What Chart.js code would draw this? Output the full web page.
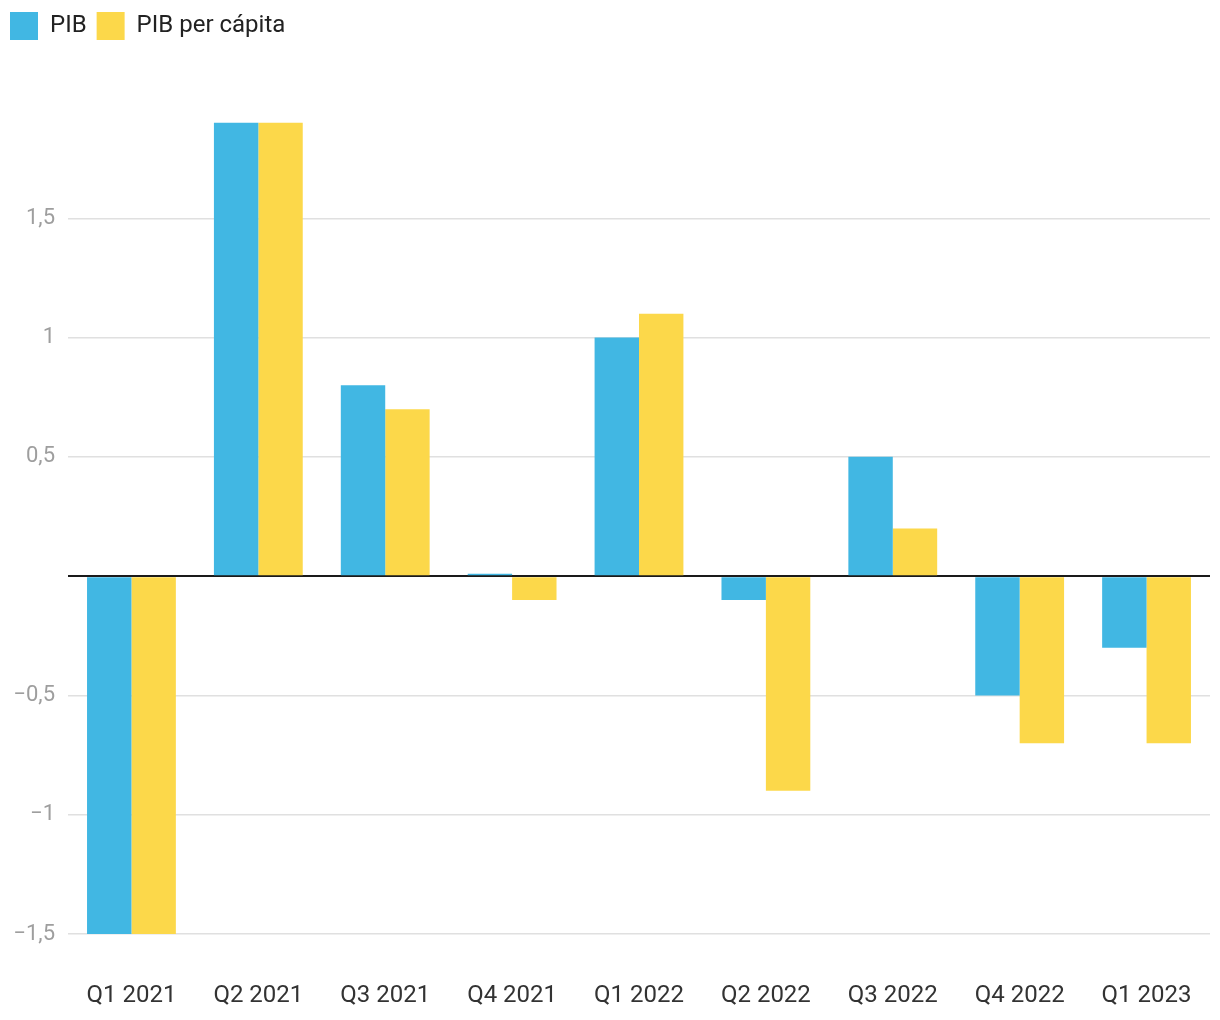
<!DOCTYPE html>
<html>
<head>
<meta charset="utf-8">
<script src="https://cdn.jsdelivr.net/npm/chart.js@4/dist/chart.umd.min.js"></script>
<style>
  html, body { margin:0; padding:0; background:#fff; overflow:hidden; }
  #wrap { position:relative; width:1220px; height:1020px; }
</style>
</head>
<body>
<div id="wrap"><canvas id="c"></canvas></div>
<script>
/* PIB trimestral: variación % */
const quarters = ['Q1 2021','Q2 2021','Q3 2021','Q4 2021','Q1 2022','Q2 2022','Q3 2022','Q4 2022','Q1 2023'];
const pib = [-1.5, 1.9, 0.8, 0.01, 1.0, -0.1, 0.5, -0.5, -0.3];
const pibPerCapita = [-1.5, 1.9, 0.7, -0.1, 1.1, -0.9, 0.2, -0.7, -0.7];
const yTicks = [-1.5, -1, -0.5, 0, 0.5, 1, 1.5, 2];

const fmt = v => String(v).replace('.', ',').replace('-', '\u2212');

// altura fija de la leyenda para colocar el área del gráfico
const legendHeight = {
  id: 'legendHeight',
  beforeInit(chart) {
    const orig = chart.legend.fit;
    chart.legend.fit = function () { orig.bind(chart.legend)(); this.height = 97; };
  }
};

new Chart(document.getElementById('c').getContext('2d'), {
  type: 'bar',
  data: {
    labels: quarters,
    datasets: [
      { label:'PIB', data:pib, backgroundColor:'#41B7E3', categoryPercentage:0.7, barPercentage:1.0 },
      { label:'PIB per cápita', data:pibPerCapita, backgroundColor:'#FCD84A', categoryPercentage:0.7, barPercentage:1.0 }
    ]
  },
  options: {
    responsive:true, maintainAspectRatio:false, animation:false,
    layout: { padding:{ left:0, right:10, top:2, bottom:12 } },
    plugins: {
      legend: { position:'top', align:'start',
        labels: { boxWidth:28, boxHeight:28, padding:10, color:'#222', font:{ family:'Roboto', size:24 } } },
      tooltip: { enabled:false }
    },
    scales: {
      x: {
        grid: { display:false, drawTicks:false },
        border: { display:false },
        // el padding de las etiquetas no debe recortar el área por los lados
        afterFit: s => { s.height = 74; s.paddingLeft = 0; s.paddingRight = 0; },
        ticks: { padding:48, color:'#333', font:{ family:'Roboto', size:24 } }
      },
      y: {
        min:-1.5, max:2,
        afterBuildTicks: s => { s.ticks = yTicks.map(v => ({ value:v })); },
        afterFit: s => { s.width = 68; },
        border: { display:false },
        grid: {
          drawTicks:false,
          color: c => c.tick.value === 0 ? '#1a1a1a' : (c.tick.value === 2 ? 'rgba(0,0,0,0)' : '#e0e0e0'),
          lineWidth: c => c.tick.value === 0 ? 2 : 1.5
        },
        ticks: {
          padding:13, color:'#9e9e9e', font:{ family:'Roboto', size:22 },
          callback: v => (v === 0 || v === 2) ? '' : fmt(v)
        }
      }
    }
  },
  plugins: [legendHeight]
});
</script>
</body>
</html>
